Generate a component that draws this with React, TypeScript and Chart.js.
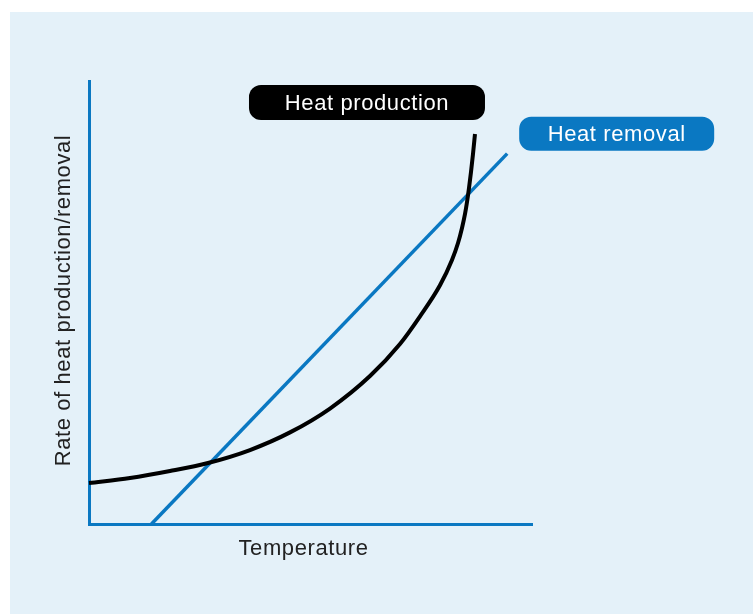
import React, { useEffect, useRef } from "react";
import { Chart, registerables } from "chart.js";

Chart.register(...registerables);

// Heat production curve (arbitrary units, 0-100)
const productionX = [0, 9.26, 18.28, 26.86, 36.34, 45.37, 54.4, 63.43, 70.2, 74.72, 79.23, 81.94, 83.3, 84.2, 84.88, 85.33, 85.78, 86.23, 86.68, 87.13];
const productionY = [9.26, 10.38, 11.96, 13.77, 16.7, 20.68, 26.07, 33.41, 40.63, 46.88, 53.88, 59.59, 63.43, 66.82, 69.98, 72.69, 75.85, 79.46, 83.52, 88.04];
// Heat removal line
const removalX = [14.1, 94.4];
const removalY = [0, 83.6];

const seriesNames = ["Heat production", "Heat removal"];
const xTitle = "Temperature";
const yTitle = "Rate of heat production/removal";

const BLUE = "#0a78c2";
const BG = "#e4f1f9";
const FONT = "22px 'Liberation Sans', Arial, sans-serif";

function roundRect(ctx: CanvasRenderingContext2D, x: number, y: number, w: number, h: number, r: number) {
  ctx.beginPath();
  ctx.moveTo(x + r, y);
  ctx.lineTo(x + w - r, y);
  ctx.arcTo(x + w, y, x + w, y + r, r);
  ctx.lineTo(x + w, y + h - r);
  ctx.arcTo(x + w, y + h, x + w - r, y + h, r);
  ctx.lineTo(x + r, y + h);
  ctx.arcTo(x, y + h, x, y + h - r, r);
  ctx.lineTo(x, y + r);
  ctx.arcTo(x, y, x + r, y, r);
  ctx.closePath();
}

const decorPlugin = {
  id: "decor",
  beforeDraw(chart: any) {
    const ctx = chart.ctx as CanvasRenderingContext2D;
    ctx.save();
    ctx.fillStyle = "#ffffff";
    ctx.fillRect(0, 0, chart.width, chart.height);
    ctx.fillStyle = BG;
    ctx.fillRect(10, 12, chart.width - 10, chart.height - 12);
    ctx.restore();
  },
  afterDraw(chart: any) {
    const ctx = chart.ctx as CanvasRenderingContext2D;
    const area = chart.chartArea;
    ctx.save();
    (ctx as any).letterSpacing = "0.6px";
    ctx.font = FONT;
    ctx.textAlign = "center";
    ctx.textBaseline = "middle";
    // axis titles
    ctx.fillStyle = "#222222";
    ctx.fillText(xTitle, (area.left + area.right) / 2 - 7, area.bottom + 25);
    ctx.save();
    ctx.translate(area.left - 25, (area.top + area.bottom) / 2 - 2);
    ctx.rotate(-Math.PI / 2);
    ctx.fillText(yTitle, 0, 0);
    ctx.restore();

    // series label boxes anchored at each series' last point
    const boxes = [
      { ds: 0, dx: -108, dy: -31.5, w: 236, h: 35, fill: "#000000" },
      { ds: 1, dx: 109.5, dy: -20, w: 195, h: 34, fill: BLUE },
    ];
    boxes.forEach((b) => {
      const meta = chart.getDatasetMeta(b.ds);
      const last = meta.data[meta.data.length - 1];
      const cx = last.x + b.dx;
      const cy = last.y + b.dy;
      ctx.fillStyle = b.fill;
      roundRect(ctx, cx - b.w / 2, cy - b.h / 2, b.w, b.h, 12);
      ctx.fill();
      ctx.fillStyle = "#ffffff";
      ctx.fillText(seriesNames[b.ds], cx, cy + 1);
    });
    ctx.restore();
  },
};

export default function App() {
  const ref = useRef<HTMLCanvasElement>(null);
  useEffect(() => {
    if (!ref.current) return;
    const chart = new Chart(ref.current, {
      type: "line",
      data: {
        datasets: [
          {
            label: seriesNames[0],
            data: productionX.map((x, i) => ({ x, y: productionY[i] })),
            borderColor: "#000000",
            borderWidth: 4,
            pointRadius: 0,
            cubicInterpolationMode: "monotone",
            fill: false,
            clip: false as any,
          },
          {
            label: seriesNames[1],
            data: removalX.map((x, i) => ({ x, y: removalY[i] })),
            borderColor: BLUE,
            borderWidth: 3.5,
            pointRadius: 0,
            fill: false,
            clip: false as any,
          },
        ],
      },
      options: {
        animation: false,
        responsive: false,
        layout: { padding: { left: 89, top: 81, right: 221, bottom: 90 } },
        plugins: { legend: { display: false }, tooltip: { enabled: false } },
        scales: {
          x: {
            type: "linear",
            min: 0,
            max: 100,
            grid: { display: false, drawTicks: false },
            ticks: { display: false },
            border: { display: true, color: BLUE, width: 3 },
            afterFit: (s: any) => { s.height = 0; },
          },
          y: {
            type: "linear",
            min: 0,
            max: 100,
            grid: { display: false, drawTicks: false },
            ticks: { display: false },
            border: { display: true, color: BLUE, width: 3 },
            afterFit: (s: any) => { s.width = 0; },
          },
        },
      },
      plugins: [decorPlugin],
    });
    return () => chart.destroy();
  }, []);
  return (
    <div style={{ position: "fixed", left: 0, top: 0, width: 753, height: 614 }}>
      <canvas ref={ref} width={753} height={614} style={{ display: "block", width: 753, height: 614 }} />
    </div>
  );
}
